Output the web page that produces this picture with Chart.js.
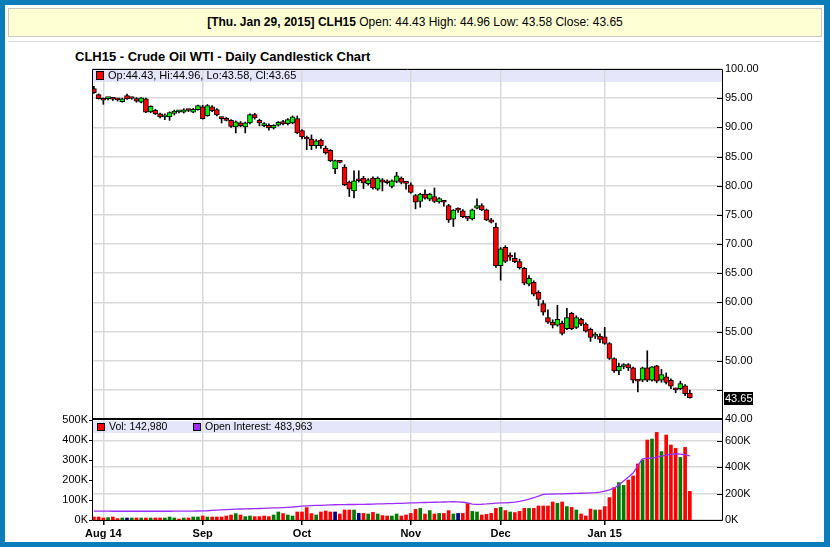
<!DOCTYPE html>
<html>
<head>
<meta charset="utf-8">
<script src="https://cdn.jsdelivr.net/npm/chart.js@4.4.1/dist/chart.umd.min.js"></script>
<style>
html,body{margin:0;padding:0;}
body{width:830px;height:547px;background:#0b7dbb;position:relative;overflow:hidden;font-family:"Liberation Sans",Arial,Helvetica,sans-serif;color:#000;}
#frame{position:absolute;left:5px;top:5px;width:819px;height:537px;background:#fff;}
#hdr{position:absolute;left:8px;top:8px;width:812px;height:27px;background:#ffffd4;border:1px solid #c8c8c8;text-align:center;line-height:27px;font-size:12px;white-space:nowrap;}
#sep{position:absolute;left:8px;top:41px;width:814px;height:1px;background:#dcdcdc;}
#title{position:absolute;left:75px;top:49px;font-size:13px;font-weight:bold;white-space:nowrap;}
canvas{position:absolute;left:0;top:0;}
</style>
</head>
<body>
<div id="frame"></div>
<div id="hdr"><b>[Thu. Jan 29, 2015] CLH15</b> Open: 44.43 High: 44.96 Low: 43.58 Close: 43.65</div>
<div id="sep"></div>
<div id="title">CLH15 - Crude Oil WTI - Daily Candlestick Chart</div>
<canvas id="price" width="830" height="547"></canvas>
<canvas id="vol" width="830" height="547"></canvas>
<script>
// ---- data (one entry per trading day, Jul 30 2014 .. Jan 29 2015) ----
const opens = [
96.65,95.60,94.95,94.92,94.90,94.78,94.40,95.45,95.00,94.93,
94.30,94.88,92.65,92.92,92.30,91.80,91.79,92.40,92.65,92.58,
92.95,92.60,93.04,93.50,92.00,93.50,93.04,91.55,91.50,91.20,
90.07,90.76,90.07,90.76,92.18,91.20,90.30,90.35,89.90,90.35,
91.00,90.64,90.76,91.50,89.43,88.35,88.00,86.86,87.80,86.46,
86.05,82.85,84.10,83.20,80.62,79.12,81.18,81.30,80.33,81.30,
79.42,81.00,80.80,79.87,80.72,81.30,80.50,80.15,78.32,77.30,
78.55,77.70,78.15,77.23,77.25,76.60,74.26,75.90,75.70,74.45,
74.30,76.15,76.60,75.86,74.14,72.90,66.30,69.45,67.85,67.56,
66.98,65.84,63.10,63.44,61.72,59.80,57.40,56.60,56.10,56.40,
55.50,58.10,55.70,57.07,56.27,55.36,54.20,54.20,54.10,52.95,
50.37,48.25,49.00,49.34,48.77,46.55,46.65,48.77,46.65,49.10,
46.65,47.22,46.65,45.10,45.20,45.67,44.43];
const highs = [
97.05,95.75,95.05,95.10,95.05,94.95,95.00,95.70,95.15,95.10,
95.10,95.00,93.70,93.10,92.45,92.30,92.65,92.95,92.90,93.20,
93.10,93.25,93.80,93.80,93.90,93.75,93.20,91.80,91.70,91.35,
91.10,91.00,90.90,92.30,92.40,91.40,90.80,90.60,90.45,91.00,
91.20,91.50,91.96,91.96,89.60,88.50,88.70,87.90,88.00,86.80,
86.20,84.40,84.25,83.60,80.80,82.56,82.56,81.60,81.20,81.50,
81.50,81.20,81.00,81.00,82.30,81.50,80.70,80.50,78.50,78.70,
79.30,78.70,79.60,77.95,77.40,76.80,75.90,76.20,75.90,74.70,
76.00,77.75,76.90,76.00,74.40,73.60,69.40,69.70,68.50,68.50,
67.40,66.00,64.60,63.70,62.00,60.30,58.70,57.00,59.50,56.80,
58.96,58.30,57.70,57.30,56.50,55.60,54.80,54.60,55.70,53.10,
50.50,49.60,49.50,49.50,48.90,46.80,48.90,51.70,49.00,49.20,
48.50,47.90,46.90,45.30,46.50,45.90,44.96];
const lows = [
95.80,94.85,93.95,94.70,94.60,94.50,94.30,94.80,94.80,94.30,
94.20,92.50,92.50,92.20,91.60,91.30,91.20,92.10,92.45,92.45,
92.70,92.50,92.95,91.40,91.90,92.70,91.95,90.75,91.10,90.00,
89.04,90.10,89.04,90.60,91.40,90.24,90.10,89.50,89.70,90.20,
90.40,90.40,90.60,88.90,88.00,86.17,86.17,86.40,86.40,85.40,
84.10,82.05,83.90,80.00,78.15,77.90,80.60,79.50,80.10,79.40,
79.20,79.10,80.30,79.60,80.50,80.30,79.40,78.70,76.03,76.30,
77.70,77.40,77.10,77.00,76.50,73.70,73.00,75.40,74.50,74.00,
74.10,76.00,75.70,74.00,73.60,66.00,63.80,66.80,67.20,66.80,
65.70,63.00,62.80,61.10,59.40,57.80,56.40,55.60,55.90,54.40,
55.30,55.30,55.50,56.00,54.90,53.30,53.80,53.10,52.80,50.20,
48.00,47.60,48.60,48.30,46.20,44.65,46.40,46.40,46.50,46.20,
46.30,46.00,45.20,44.50,45.00,44.00,43.58];
const closes = [
95.96,94.90,94.65,94.98,94.82,94.70,94.88,94.88,94.95,94.47,
95.05,92.58,93.60,92.30,91.79,92.15,92.53,92.80,92.75,93.00,
92.88,93.10,93.73,91.50,93.73,92.87,92.13,91.50,91.20,90.17,
90.93,90.30,90.76,92.18,91.60,90.76,90.64,89.90,90.35,90.86,
90.60,91.32,91.79,89.04,88.35,88.00,86.86,87.70,86.86,85.60,
84.28,84.28,84.00,80.15,79.42,80.84,80.84,80.45,81.00,79.60,
81.30,80.62,80.50,80.84,81.70,80.55,80.40,78.83,77.18,78.55,
77.87,78.55,77.30,77.80,77.15,74.14,75.80,75.80,74.70,74.40,
75.86,76.60,75.86,74.14,73.75,66.30,69.16,67.00,67.75,66.98,
65.95,63.27,64.12,61.38,60.50,58.30,56.60,56.10,57.07,54.67,
57.40,55.50,57.40,56.27,55.07,53.98,54.55,53.64,52.95,50.37,
48.25,49.05,49.10,48.77,46.65,46.48,48.77,46.65,48.94,46.50,
47.62,46.25,45.62,45.00,46.08,44.36,43.65];
// volume, thousands of contracts
const volumes = [
15,15,10,12,15,7,10,10,10,10,
10,10,10,10,10,10,15,10,5,10,
10,15,15,20,15,15,15,15,20,25,
32,25,17,20,17,17,20,17,25,40,
32,25,20,40,40,62,32,25,40,45,
40,40,30,50,50,50,33,33,30,38,
30,22,20,20,30,20,25,33,53,58,
30,47,30,33,33,47,30,33,33,82,
43,40,25,28,33,58,63,47,40,37,
43,58,58,58,70,70,70,90,83,90,
67,63,50,30,20,55,50,50,67,112,
162,187,173,200,220,280,300,400,405,438,
342,425,375,358,313,363,142.98];
// open interest, thousands
const openInterest = [
67,67,67,67,66,66,66,66,66,66,
66,66,66,66,66,66,66,67,67,67,
67,67,68,69,70,72,74,76,78,80,
82,83,84,85,86,87,88,90,91,92,
94,96,98,101,104,106,108,110,111,113,
114,115,116,116,117,117,118,118,119,120,
121,122,123,124,125,126,128,129,130,131,
132,133,134,135,136,137,138,137,134,130,
120,118,119,121,124,127,129,130,132,135,
140,148,158,168,180,193,195,196,197,198,
199,200,201,202,203,205,207,210,218,228,
240,265,295,325,355,410,462,465,468,475,
482,490,495,500,498,493,483.963];
const monthTickIdx = [2, 23, 44, 67, 86, 108];
const monthLabels = ['Aug 14', 'Sep', 'Oct', 'Nov', 'Dec', 'Jan 15'];
const priceTicks = {min: 40, max: 100, step: 5};
const volTicks = {max: 500, step: 100};
const oiTickValues = [0, 200, 400, 600];

// ---- styling ----
const FONT = '"Liberation Sans", Arial, Helvetica, sans-serif';
const RED = '#ff0000', LIME = '#00ee00', DKGREEN = '#007a00', NAVY = '#000080', PURPLE = '#9d2cff';
const GRID = '#d9d9d9', BAND = '#e6e6fa';
Chart.defaults.font.family = FONT;
Chart.defaults.color = '#000';

const N = closes.length;
const idx = closes.map((_, i) => i);
const last = N - 1;
const XMIN = -0.4, XMAX = 132.8;
const fmtK = v => (v / 1000) + 'K';
const fmtInt = v => Math.round(v).toLocaleString('en-US');

function monthGrid(scale) { scale.ticks = monthTickIdx.map(v => ({value: v})); }

const priceDeco = {
  id: 'priceDeco',
  beforeDraw(chart) {
    const {ctx, chartArea: a} = chart;
    ctx.save();
    ctx.fillStyle = BAND;
    ctx.fillRect(a.left, a.top, a.right - a.left, 13);
    ctx.restore();
  },
  afterDraw(chart) {
    const {ctx, chartArea: a, scales: {y}} = chart;
    ctx.save();
    ctx.strokeStyle = '#000';
    ctx.lineWidth = 1;
    y.ticks.forEach(t => {
      const py = Math.round(y.getPixelForValue(t.value)) + 0.5;
      ctx.beginPath(); ctx.moveTo(a.right - 5, py); ctx.lineTo(a.right, py); ctx.stroke();
    });
    ctx.beginPath();
    ctx.moveTo(a.left + 0.5, a.bottom);
    ctx.lineTo(a.left + 0.5, a.top + 0.5);
    ctx.lineTo(a.right + 0.5, a.top + 0.5);
    ctx.lineTo(a.right + 0.5, a.bottom);
    ctx.stroke();
    ctx.lineWidth = 2;
    ctx.beginPath(); ctx.moveTo(a.left, a.bottom); ctx.lineTo(a.right + 1, a.bottom); ctx.stroke();
    // legend
    ctx.lineWidth = 1;
    ctx.fillStyle = closes[last] < opens[last] ? RED : LIME;
    ctx.fillRect(a.left + 5, a.top + 3, 6, 7);
    ctx.strokeRect(a.left + 4.5, a.top + 2.5, 7, 8);
    ctx.fillStyle = '#000';
    ctx.font = '11px ' + FONT;
    ctx.textBaseline = 'middle';
    ctx.fillText('Op:' + opens[last].toFixed(2) + ', Hi:' + highs[last].toFixed(2) +
      ', Lo:' + lows[last].toFixed(2) + ', Cl:' + closes[last].toFixed(2), a.left + 16, a.top + 7);
    // last price marker
    const py = y.getPixelForValue(closes[last]);
    ctx.fillStyle = '#000';
    ctx.fillRect(a.right + 2, Math.round(py) - 6, 29, 13);
    ctx.fillStyle = '#fff';
    ctx.fillText(closes[last].toFixed(2), a.right + 3, Math.round(py) + 0.5);
    ctx.restore();
  }
};

new Chart(document.getElementById('price'), {
  type: 'bar',
  data: {
    datasets: [
      {
        label: 'body', order: 0, grouped: false,
        data: idx.map(i => ({x: i, y: [opens[i], closes[i]]})),
        backgroundColor: idx.map(i => closes[i] > opens[i] ? LIME : RED),
        borderColor: '#000', borderWidth: 1, borderSkipped: false,
        barThickness: 5, minBarLength: 2
      },
      {
        label: 'wick', order: 1, grouped: false,
        data: idx.map(i => ({x: i, y: [lows[i], highs[i]]})),
        backgroundColor: '#000', borderWidth: 0, barThickness: 1
      }
    ]
  },
  options: {
    responsive: false, animation: false, events: [],
    layout: {padding: {left: 92, top: 69, right: 0, bottom: 128}},
    plugins: {legend: {display: false}, tooltip: {enabled: false}},
    scales: {
      x: {
        type: 'linear', min: XMIN, max: XMAX, offset: false,
        grid: {offset: false, color: GRID, lineWidth: 1.5, drawTicks: false},
        border: {display: false},
        ticks: {display: false},
        afterBuildTicks: monthGrid,
        afterFit: s => { s.height = 0; }
      },
      y: {
        position: 'right', min: priceTicks.min, max: priceTicks.max,
        grid: {color: GRID, lineWidth: 1.5, drawTicks: false},
        border: {display: false},
        ticks: {
          stepSize: priceTicks.step, padding: 3, color: '#000', font: {size: 11},
          callback: v => Math.abs(v - closes[last]) < 2.5 ? '' : Number(v).toFixed(2)
        },
        afterFit: s => { s.width = 108; }
      }
    }
  },
  plugins: [priceDeco]
});

const volDeco = {
  id: 'volDeco',
  beforeDraw(chart) {
    const {ctx, chartArea: a} = chart;
    ctx.save();
    ctx.fillStyle = BAND;
    ctx.fillRect(a.left, a.top + 1, a.right - a.left, 12);
    ctx.restore();
  },
  afterDraw(chart) {
    const {ctx, chartArea: a, scales} = chart;
    ctx.save();
    ctx.strokeStyle = '#000';
    ctx.lineWidth = 1;
    scales.yOI.ticks.forEach(t => {
      const py = Math.round(scales.yOI.getPixelForValue(t.value)) + 0.5;
      ctx.beginPath(); ctx.moveTo(a.right - 5, py); ctx.lineTo(a.right, py); ctx.stroke();
    });
    scales.yV.ticks.forEach(t => {
      const py = Math.round(scales.yV.getPixelForValue(t.value)) + 0.5;
      ctx.beginPath(); ctx.moveTo(a.left - 3, py); ctx.lineTo(a.left, py); ctx.stroke();
    });
    ctx.beginPath();
    ctx.moveTo(a.left + 0.5, a.top); ctx.lineTo(a.left + 0.5, a.bottom + 0.5);
    ctx.lineTo(a.right + 0.5, a.bottom + 0.5); ctx.lineTo(a.right + 0.5, a.top);
    ctx.stroke();
    // legend
    ctx.font = '10.5px ' + FONT;
    ctx.textBaseline = 'middle';
    const ly = a.top + 7;
    ctx.fillStyle = RED;
    ctx.fillRect(a.left + 6, ly - 3, 6, 6);
    ctx.strokeRect(a.left + 5.5, ly - 3.5, 7, 7);
    ctx.fillStyle = '#000';
    ctx.fillText('Vol: ' + fmtInt(volumes[last] * 1000), a.left + 17, ly);
    ctx.fillStyle = PURPLE;
    ctx.fillRect(a.left + 102, ly - 3, 6, 6);
    ctx.strokeRect(a.left + 101.5, ly - 3.5, 7, 7);
    ctx.fillStyle = '#000';
    ctx.fillText('Open Interest: ' + fmtInt(openInterest[last] * 1000), a.left + 113, ly);
    ctx.restore();
  }
};

new Chart(document.getElementById('vol'), {
  type: 'bar',
  data: {
    datasets: [
      {
        type: 'line', label: 'Open Interest', order: 0, yAxisID: 'yOI',
        data: idx.map(i => ({x: i, y: openInterest[i] * 1000})),
        borderColor: PURPLE, borderWidth: 1.3, pointRadius: 0, tension: 0, fill: false
      },
      {
        type: 'bar', label: 'Vol', order: 1, yAxisID: 'yV',
        data: idx.map(i => ({x: i, y: volumes[i] * 1000})),
        backgroundColor: idx.map(i => {
          const prev = i === 0 ? opens[0] : closes[i - 1];
          return closes[i] > prev ? DKGREEN : (closes[i] < prev ? RED : NAVY);
        }),
        borderWidth: 0, barThickness: 3
      }
    ]
  },
  options: {
    responsive: false, animation: false, events: [],
    layout: {padding: {left: 0, top: 420, right: 0, bottom: 0}},
    plugins: {legend: {display: false}, tooltip: {enabled: false}},
    scales: {
      x: {
        type: 'linear', min: XMIN, max: XMAX, offset: false,
        grid: {offset: false, color: GRID, lineWidth: 1.5, drawTicks: true, tickLength: 5, tickColor: '#000'},
        border: {display: false},
        ticks: {
          autoSkip: false, maxRotation: 0, minRotation: 0, padding: 2,
          font: {size: 11, weight: 'bold'}, color: '#000',
          callback: v => { const k = monthTickIdx.indexOf(v); return k >= 0 ? monthLabels[k] : ''; }
        },
        afterBuildTicks: monthGrid,
        afterFit: s => { s.height = 27; }
      },
      yV: {
        position: 'left', min: 0, max: volTicks.max * 1000,
        grid: {display: false, drawTicks: false},
        border: {display: false},
        ticks: {stepSize: volTicks.step * 1000, padding: 4, font: {size: 11}, color: '#000', callback: fmtK},
        afterFit: s => { s.width = 92; }
      },
      yOI: {
        position: 'right', min: 0, max: 755000,
        grid: {color: GRID, lineWidth: 1.5, drawTicks: false},
        border: {display: false},
        ticks: {padding: 3, font: {size: 11}, color: '#000', callback: fmtK},
        afterBuildTicks: s => { s.ticks = oiTickValues.map(v => ({value: v * 1000})); },
        afterFit: s => { s.width = 108; }
      }
    }
  },
  plugins: [volDeco]
});
</script>
</body>
</html>
